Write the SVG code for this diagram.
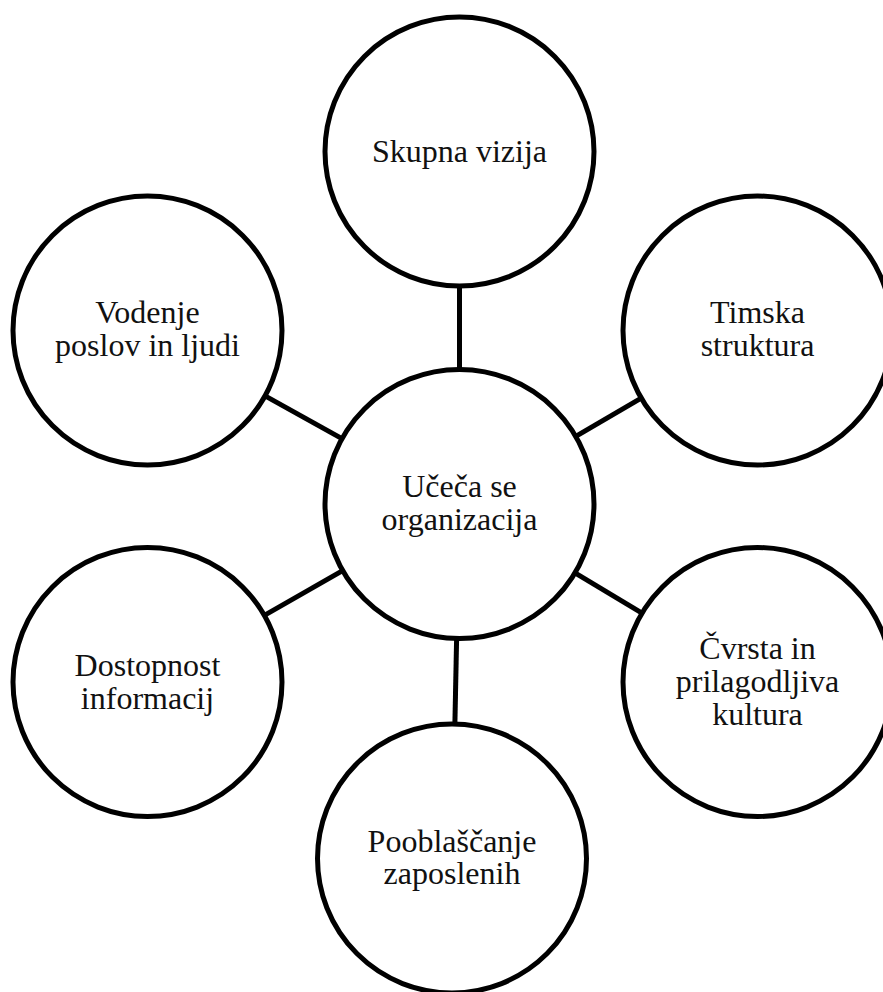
<svg xmlns="http://www.w3.org/2000/svg" width="883" height="992" viewBox="0 0 883 992">
<style>
.node circle{fill:#fff;stroke:#000;stroke-width:5}
.node text{font-family:"Liberation Serif","Times New Roman",serif;font-size:32px;fill:#111;text-anchor:middle}
#connectors line{stroke:#000;stroke-width:5}
</style>
<rect width="883" height="992" fill="#fff"/>
<g id="connectors">
<line x1="459.5" y1="286" x2="459.5" y2="369"/>
<line x1="456.6" y1="639" x2="454.9" y2="723.5"/>
<line x1="576.2" y1="436.1" x2="640.8" y2="398.4"/>
<line x1="341.5" y1="438.4" x2="265.5" y2="396.1"/>
<line x1="342.2" y1="570.9" x2="264.8" y2="615.1"/>
<line x1="575.4" y1="573.2" x2="641.6" y2="612.8"/>
</g>
<g id="node-skupna" class="node">
<circle cx="459.5" cy="151.5" r="134.5"/>
<text x="459.5" y="162">Skupna vizija</text>
</g>
<g id="node-timska" class="node">
<circle cx="757.5" cy="330.5" r="134.5"/>
<text x="757.5" y="323.3">Timska</text>
<text x="757.5" y="356.3">struktura</text>
</g>
<g id="node-vodenje" class="node">
<circle cx="147.5" cy="330.5" r="134.5"/>
<text x="147.5" y="322.5">Vodenje</text>
<text x="147.5" y="355.5">poslov in ljudi</text>
</g>
<g id="node-center" class="node">
<circle cx="459.5" cy="504" r="134.5"/>
<text x="459.5" y="497">Učeča se</text>
<text x="459.5" y="530">organizacija</text>
</g>
<g id="node-dostopnost" class="node">
<circle cx="147.5" cy="682" r="134.5"/>
<text x="147.5" y="675.5">Dostopnost</text>
<text x="147.5" y="708.5">informacij</text>
</g>
<g id="node-cvrsta" class="node">
<circle cx="757.5" cy="682" r="134.5"/>
<text x="757.5" y="658.5">Čvrsta in</text>
<text x="757.5" y="691.5">prilagodljiva</text>
<text x="757.5" y="724.5">kultura</text>
</g>
<g id="node-pooblascanje" class="node">
<circle cx="452" cy="858.5" r="134.5"/>
<text x="452" y="851.5">Pooblaščanje</text>
<text x="452" y="884">zaposlenih</text>
</g>
</svg>
